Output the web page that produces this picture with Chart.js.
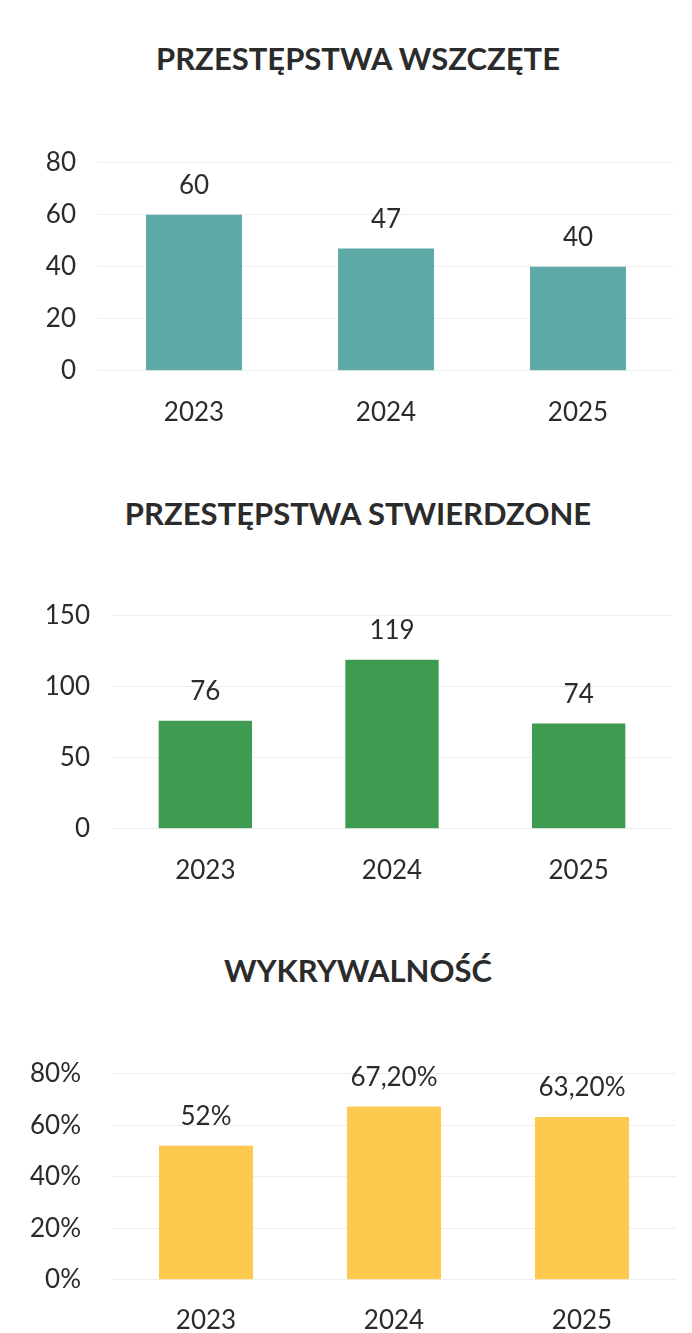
<!DOCTYPE html>
<html lang="pl">
<head>
<meta charset="UTF-8">
<title>Przestępstwa</title>
<script src="https://cdn.jsdelivr.net/npm/chart.js"></script>
<style>
    body { margin: 0; background: #fff; width: 692px; height: 1333px; overflow: hidden; position: relative; }
    .box { position: absolute; left: 0; width: 692px; }
    .title {
        position: absolute; left: 58px; width: 600px; height: 36px; line-height: 36px;
        text-align: center; font: bold 31px Lato, "Open Sans", sans-serif; color: #2b2b2b;
    }
</style>
</head>
<body>
<div class="box" style="top:125px;height:326px"><canvas id="c1"></canvas></div>
<div class="box" style="top:578px;height:331px"><canvas id="c2"></canvas></div>
<div class="box" style="top:1027px;height:326px"><canvas id="c3"></canvas></div>
<div class="title" id="t1" style="top:39px"></div>
<div class="title" id="t2" style="top:494px"></div>
<div class="title" id="t3" style="top:951px"></div>
<script>
const years = ['2023', '2024', '2025'];

const titles = ['PRZESTĘPSTWA WSZCZĘTE', 'PRZESTĘPSTWA STWIERDZONE', 'WYKRYWALNOŚĆ'];

const wszczete = [60, 47, 40];
const stwierdzone = [76, 119, 74];
const wykrywalnosc = [52, 67.2, 63.2];

const yTicks1 = [0, 20, 40, 60, 80];
const yTicks2 = [0, 50, 100, 150];
const yTicks3 = [0, 20, 40, 60, 80];

const FONT = 'Lato, "Open Sans", sans-serif';
const TEXT = '#2b2b2b';

['t1', 't2', 't3'].forEach((id, i) => { document.getElementById(id).textContent = titles[i]; });

function pct(v) {
    return (Number.isInteger(v) ? String(v) : v.toFixed(2).replace('.', ',')) + '%';
}

// napisy nad słupkami
const valueLabels = {
    id: 'valueLabels',
    afterDatasetsDraw(chart, args, opts) {
        const ctx = chart.ctx;
        const meta = chart.getDatasetMeta(0);
        ctx.save();
        ctx.font = '26px ' + FONT;
        ctx.fillStyle = TEXT;
        ctx.textAlign = 'center';
        ctx.textBaseline = 'middle';
        meta.data.forEach((bar, i) => {
            const v = chart.data.datasets[0].data[i];
            ctx.fillText(opts.fmt(v), bar.x, bar.y - 29);
        });
        ctx.restore();
    }
};

function makeChart(id, data, color, ticks, cfg) {
    new Chart(document.getElementById(id), {
        type: 'bar',
        data: {
            labels: years,
            datasets: [{
                data: data,
                backgroundColor: color,
                categoryPercentage: 1,
                barPercentage: 0.5
            }]
        },
        options: {
            responsive: true,
            maintainAspectRatio: false,
            animation: false,
            layout: { padding: { left: 0, right: cfg.right, top: 20, bottom: cfg.bottom } },
            plugins: {
                legend: { display: false },
                tooltip: { enabled: false },
                valueLabels: { fmt: cfg.fmt }
            },
            scales: {
                x: {
                    grid: { display: false },
                    border: { display: false },
                    ticks: { color: TEXT, font: { family: FONT, size: 26 }, padding: cfg.xPad }
                },
                y: {
                    min: 0,
                    max: ticks[ticks.length - 1],
                    afterBuildTicks: s => { s.ticks = ticks.map(v => ({ value: v })); },
                    afterFit: s => { s.width = cfg.axisW; },
                    grid: { color: '#eeeeee', drawTicks: false },
                    border: { display: false },
                    ticks: {
                        color: TEXT,
                        font: { family: FONT, size: 26 },
                        padding: cfg.yPad,
                        callback: v => cfg.tick(v)
                    }
                }
            }
        },
        plugins: [valueLabels]
    });
}

makeChart('c1', wszczete, '#5fa9a7', yTicks1, {
    right: 18, bottom: 5, xPad: 18, yPad: 22, axisW: 98,
    fmt: v => String(v), tick: v => String(v)
});
makeChart('c2', stwierdzone, '#3f9b52', yTicks2, {
    right: 20, bottom: 5, xPad: 18, yPad: 22, axisW: 112,
    fmt: v => String(v), tick: v => String(v)
});
makeChart('c3', wykrywalnosc, '#fdc94f', yTicks3, {
    right: 16, bottom: 0, xPad: 17, yPad: 31, axisW: 112,
    fmt: pct, tick: v => v + '%'
});
</script>
</body>
</html>
